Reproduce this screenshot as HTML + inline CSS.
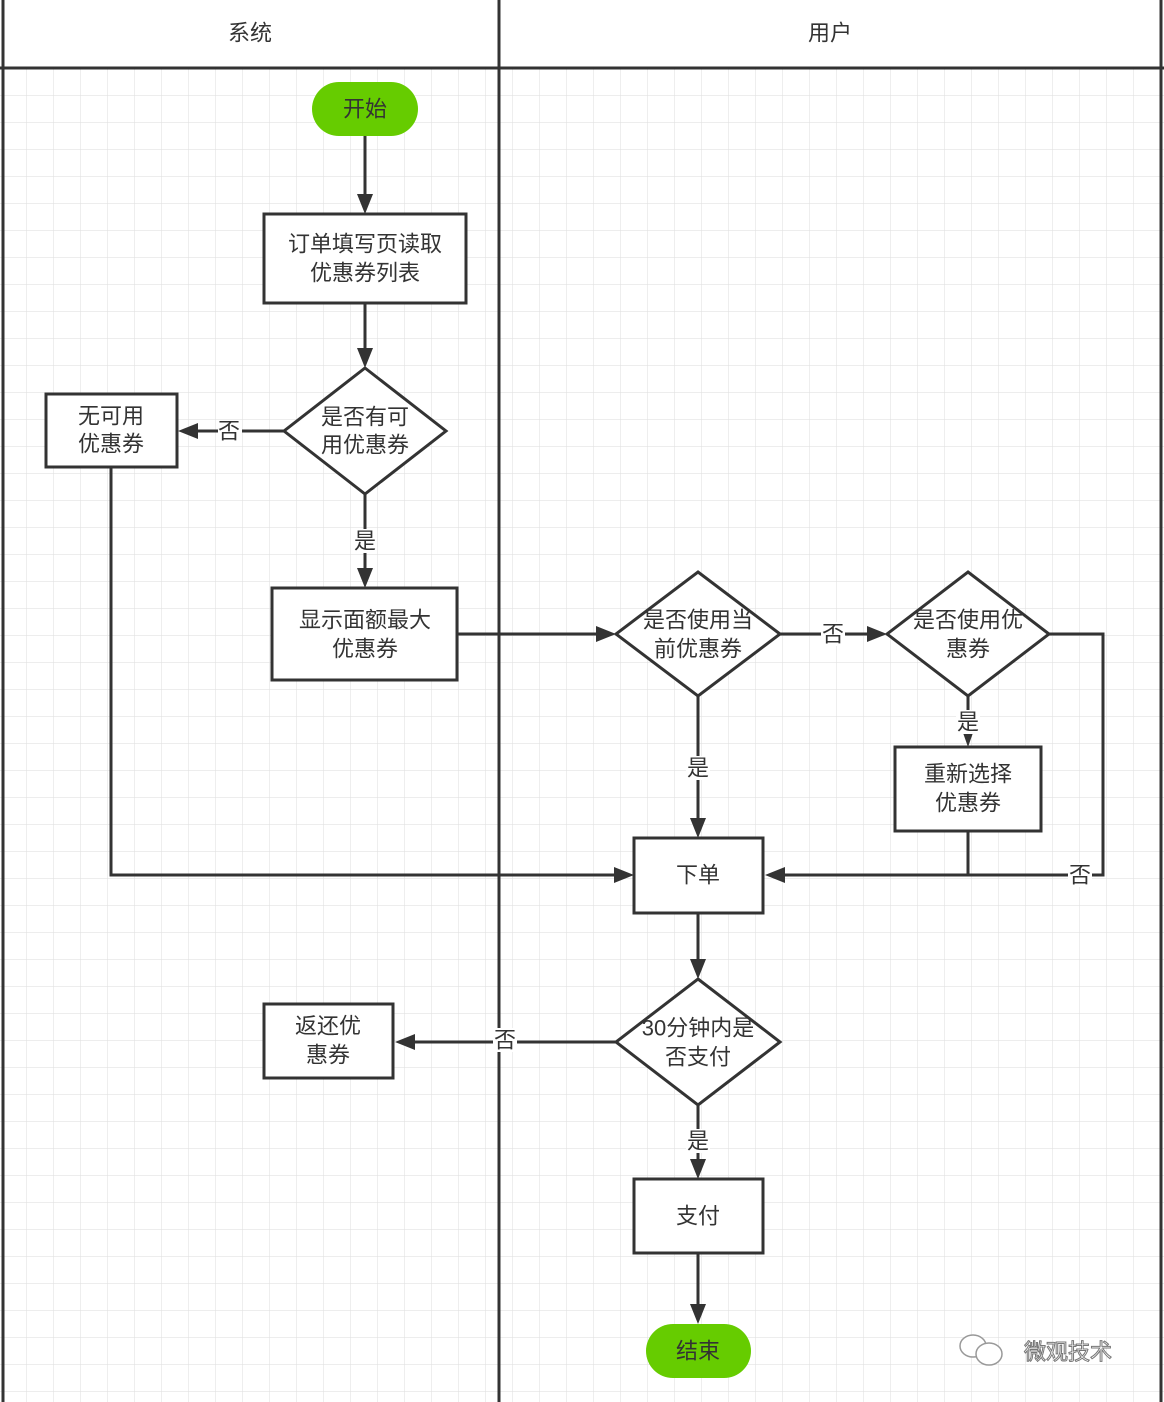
<!DOCTYPE html>
<html><head><meta charset="utf-8"><style>
body{margin:0;background:#fff}
svg{display:block}
text{font-family:"Liberation Sans","Noto Sans CJK SC",sans-serif;fill:#333;font-size:22px;text-anchor:middle;dominant-baseline:central}
</style></head><body>
<svg width="1164" height="1402" viewBox="0 0 1164 1402" xmlns="http://www.w3.org/2000/svg">
<defs>
<pattern id="g" width="27" height="27" patternUnits="userSpaceOnUse" x="0" y="69">
<path d="M27 0V27M0 27H27" stroke="#e2e2e2" stroke-width="1.2" fill="none"/>
</pattern>
<marker id="a" markerWidth="10" markerHeight="10" refX="9" refY="5" orient="auto" markerUnits="userSpaceOnUse" viewBox="0 0 10 10">
</marker>
</defs>
<rect x="0" y="69" width="1164" height="1333" fill="url(#g)"/>
<g stroke="#333" stroke-width="3" fill="none">
<line x1="3" y1="0" x2="3" y2="1402"/>
<line x1="499" y1="0" x2="499" y2="1402"/>
<line x1="1161" y1="0" x2="1161" y2="1402"/>
<line x1="0" y1="68" x2="1164" y2="68"/>
</g>
<text x="250" y="33" font-size="26">系统</text>
<text x="830" y="33" font-size="26">用户</text>

<g stroke="#333" stroke-width="3" fill="none">
<line x1="365" y1="136" x2="365" y2="196"/>
<line x1="365" y1="303" x2="365" y2="350"/>
<line x1="284" y1="431" x2="196" y2="431"/>
<line x1="365" y1="494" x2="365" y2="570"/>
<line x1="457" y1="634" x2="598" y2="634"/>
<line x1="780" y1="634" x2="869" y2="634"/>
<line x1="968" y1="696" x2="968" y2="730"/>
<polyline points="1049,634 1103,634 1103,875 783,875"/>
<line x1="968" y1="831" x2="968" y2="875"/>
<line x1="698" y1="696" x2="698" y2="820"/>
<polyline points="111,467 111,875 616,875"/>
<line x1="698" y1="913" x2="698" y2="961"/>
<line x1="616" y1="1042" x2="413" y2="1042"/>
<line x1="698" y1="1105" x2="698" y2="1161"/>
<line x1="698" y1="1253" x2="698" y2="1306"/>
</g>
<g fill="#333">
<polygon points="365,214 357,194 373,194"/>
<polygon points="365,368 357,348 373,348"/>
<polygon points="178,431 198,423 198,439"/>
<polygon points="365,588 357,568 373,568"/>
<polygon points="616,634 596,626 596,642"/>
<polygon points="887,634 867,626 867,642"/>
<polygon points="968,747 962,730 974,730"/>
<polygon points="765,875 785,867 785,883"/>
<polygon points="698,838 690,818 706,818"/>
<polygon points="634,875 614,867 614,883"/>
<polygon points="698,979 690,959 706,959"/>
<polygon points="395,1042 415,1034 415,1050"/>
<polygon points="698,1179 690,1159 706,1159"/>
<polygon points="698,1324 690,1304 706,1304"/>
</g>
<g stroke="#333" stroke-width="3" fill="#fff">
<rect x="264" y="214" width="202" height="89"/>
<polygon points="365,368 446,431 365,494 284,431"/>
<rect x="46" y="394" width="131" height="73"/>
<rect x="272" y="588" width="185" height="92"/>
<polygon points="698,572 780,634 698,696 616,634"/>
<polygon points="968,572 1049,634 968,696 887,634"/>
<rect x="895" y="747" width="146" height="84"/>
<rect x="634" y="838" width="129" height="75"/>
<polygon points="698,979 780,1042 698,1105 616,1042"/>
<rect x="264" y="1004" width="129" height="74"/>
<rect x="634" y="1179" width="129" height="74"/>
</g>
<rect x="312" y="82" width="106" height="54" rx="27" fill="#66cc00"/>
<rect x="646" y="1324" width="105" height="54" rx="27" fill="#66cc00"/>
<text x="365" y="109">开始</text>
<text x="698" y="1351">结束</text>
<text x="365" y="244">订单填写页读取</text>
<text x="365" y="273">优惠券列表</text>
<text x="365" y="417">是否有可</text>
<text x="365" y="445">用优惠券</text>
<text x="111" y="416">无可用</text>
<text x="111" y="444">优惠券</text>
<text x="365" y="620">显示面额最大</text>
<text x="365" y="649">优惠券</text>
<text x="698" y="620">是否使用当</text>
<text x="698" y="649">前优惠券</text>
<text x="968" y="620">是否使用优</text>
<text x="968" y="649">惠券</text>
<text x="968" y="774">重新选择</text>
<text x="968" y="803">优惠券</text>
<text x="698" y="875">下单</text>
<text x="698" y="1028">30分钟内是</text>
<text x="698" y="1057">否支付</text>
<text x="328" y="1026">返还优</text>
<text x="328" y="1055">惠券</text>
<text x="698" y="1216">支付</text>
<g>
<rect x="218" y="420" width="24" height="24" fill="#fff"/><text x="229" y="431">否</text>
<rect x="353" y="529" width="24" height="24" fill="#fff"/><text x="365" y="541">是</text>
<rect x="821" y="622" width="24" height="24" fill="#fff"/><text x="833" y="634">否</text>
<rect x="956" y="710" width="24" height="24" fill="#fff"/><text x="968" y="722">是</text>
<rect x="686" y="756" width="24" height="24" fill="#fff"/><text x="698" y="768">是</text>
<rect x="1068" y="863" width="24" height="24" fill="#fff"/><text x="1080" y="875">否</text>
<rect x="493" y="1028" width="24" height="24" fill="#fff"/><text x="505" y="1040">否</text>
<rect x="686" y="1129" width="24" height="24" fill="#fff"/><text x="698" y="1141">是</text>
</g>
<g stroke="#999" stroke-width="1.5" fill="#fff">
<ellipse cx="973" cy="1346" rx="13" ry="11"/>
<ellipse cx="989" cy="1354" rx="13" ry="11"/>
</g>
<text x="1068" y="1352" font-size="28" style="fill:#fff;stroke:#777;stroke-width:1">微观技术</text>
</svg>
</body></html>
